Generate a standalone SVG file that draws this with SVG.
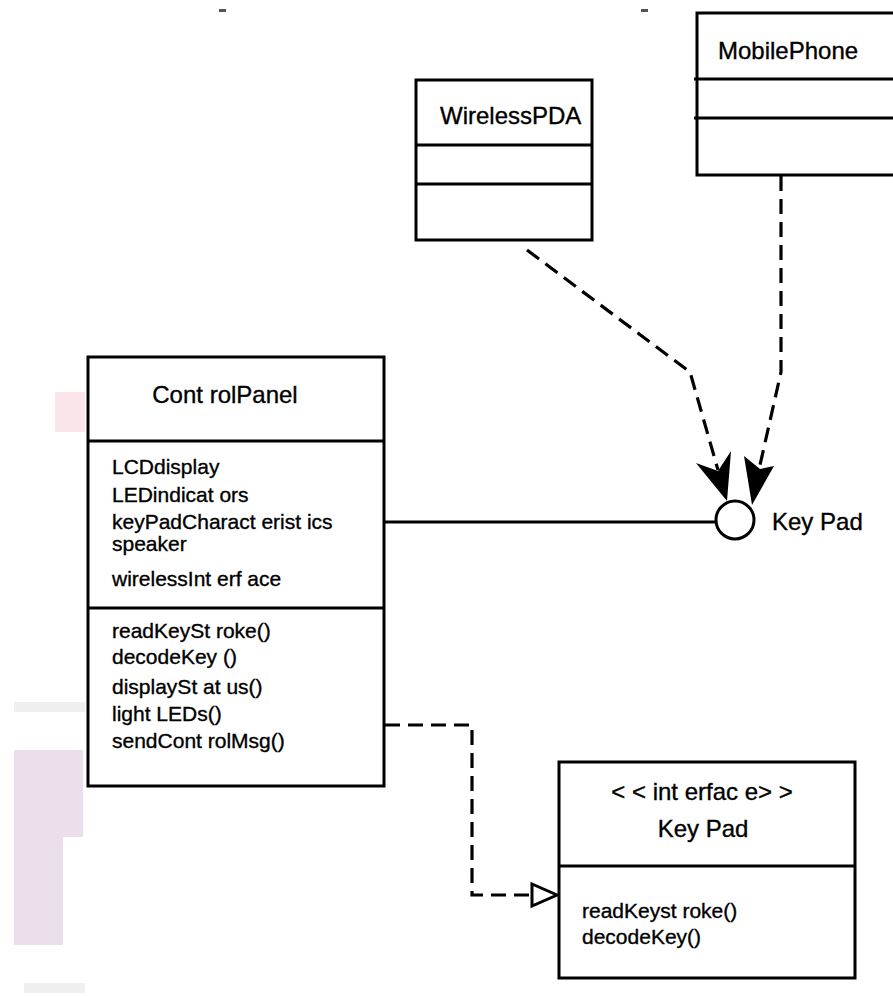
<svg xmlns="http://www.w3.org/2000/svg" width="893" height="996" viewBox="0 0 893 996">
<style>
.box{fill:#fff;stroke:#000;stroke-width:3}
.div{stroke:#000;stroke-width:3;fill:none}
.dash{stroke:#000;stroke-width:3.2;fill:none;stroke-dasharray:15 8}
.solid{stroke:#000;stroke-width:3;fill:none}
.t{font-family:"Liberation Sans",Arial,sans-serif;fill:#000;stroke:#000;stroke-width:0.35}
.title{font-size:24px}
.item{font-size:21px}
</style>
<rect width="893" height="996" fill="#fff"/>
<g id="artifacts">
<rect x="219" y="9" width="7" height="3" fill="#555"/>
<rect x="641" y="9" width="7" height="3" fill="#555"/>
<rect x="55" y="392" width="30" height="40" fill="#fae6ea"/>
<rect x="14" y="702" width="71" height="10" fill="#efefef"/>
<path d="M14 750 H83 V837 H63 V945 H14 Z" fill="#ebdfeb"/>
<rect x="24" y="983" width="61" height="10" fill="#efefef"/>
</g>
<g id="connectors">
<path class="dash" d="M527 250 L690 372 L718 470"/>
<polygon points="727,501 696,463 718,471 731,451" fill="#000"/>
<path class="dash" d="M781 176 L781 372 L760 465"/>
<polygon points="752,505 744,456 760,469 774,466" fill="#000"/>
<path class="solid" d="M384 522 L716 522"/>
<path class="dash" d="M385 725 L472 725 L472 895 L532 895"/>
<polygon points="532,884 557,895 532,906" fill="#fff" stroke="#000" stroke-width="3"/>
</g>
<g id="WirelessPDA">
<rect class="box" x="416" y="80" width="176" height="160"/>
<line class="div" x1="416" y1="145" x2="592" y2="145"/>
<line class="div" x1="416" y1="184" x2="592" y2="184"/>
<text class="t title" x="440" y="124">WirelessPDA</text>
</g>
<g id="MobilePhone">
<rect class="box" x="697" y="13" width="210" height="162"/>
<line class="div" x1="694" y1="79" x2="893" y2="79"/>
<line class="div" x1="694" y1="118" x2="893" y2="118"/>
<text class="t title" x="718" y="59">MobilePhone</text>
</g>
<g id="KeyPadLollipop">
<circle cx="735" cy="520" r="19" fill="#fff" stroke="#000" stroke-width="3"/>
<text class="t title" x="772" y="530">Key Pad</text>
</g>
<g id="ControlPanel">
<rect class="box" x="88" y="357" width="296" height="429"/>
<line class="div" x1="88" y1="441" x2="384" y2="441"/>
<line class="div" x1="88" y1="608" x2="384" y2="608"/>
<text class="t title" x="225" y="403" text-anchor="middle">Cont rolPanel</text>
<text class="t item" x="112" y="474">LCDdisplay</text>
<text class="t item" x="112" y="502">LEDindicat ors</text>
<text class="t item" x="112" y="529">keyPadCharact erist ics</text>
<text class="t item" x="112" y="551">speaker</text>
<text class="t item" x="112" y="586">wirelessInt erf ace</text>
<text class="t item" x="112" y="638">readKeySt roke()</text>
<text class="t item" x="112" y="664">decodeKey ()</text>
<text class="t item" x="112" y="694">displaySt at us()</text>
<text class="t item" x="112" y="721">light LEDs()</text>
<text class="t item" x="112" y="748">sendCont rolMsg()</text>
</g>
<g id="KeyPadInterface">
<rect class="box" x="559" y="762" width="296" height="216"/>
<line class="div" x1="559" y1="866" x2="855" y2="866"/>
<text class="t title" x="702" y="800" text-anchor="middle">&lt; &lt; int erfac e&gt; &gt;</text>
<text class="t title" x="703" y="837" text-anchor="middle">Key Pad</text>
<text class="t item" x="582" y="918">readKeyst roke()</text>
<text class="t item" x="582" y="944">decodeKey()</text>
</g>
</svg>
